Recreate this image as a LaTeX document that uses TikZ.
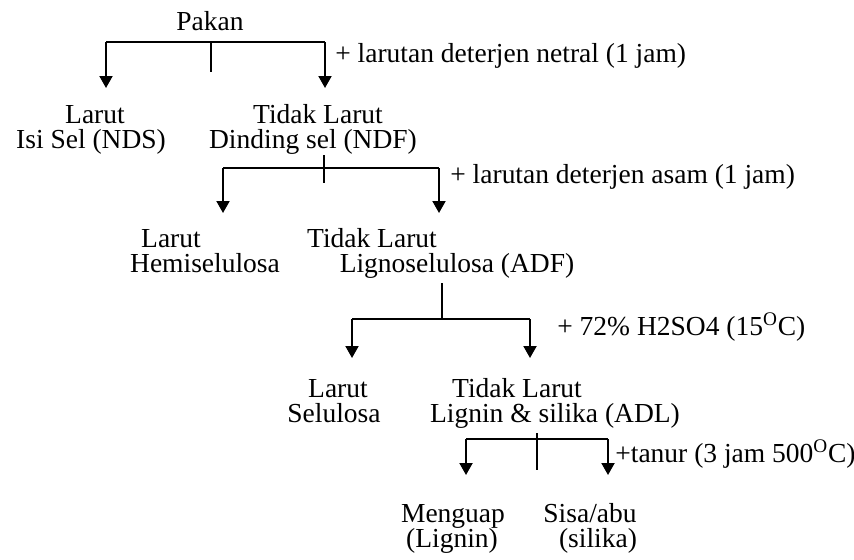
\documentclass[tikz,border=0pt]{standalone}
\usepackage{fontspec}
\setmainfont{Liberation Serif}
\usetikzlibrary{arrows.meta}
\begin{document}
\begin{tikzpicture}[x=0.02cm,y=-0.02cm,
  txt/.style={anchor=base, inner sep=0pt, font=\fontsize{15.65}{18}\selectfont},
  lbl/.style={anchor=base west, inner sep=0pt, font=\fontsize{15.65}{18}\selectfont},
  ln/.style={line width=1.1pt},
  arr/.style={line width=1.1pt, -{Triangle[length=2.4mm,width=2.6mm]}}]
\useasboundingbox (0,0) rectangle (854,559);
\node[txt] (pakan) at (210,30) {Pakan};
\node[txt] (larut1) at (95,123) {Larut};
\node[txt] (isisel) at (91,148) {Isi Sel (NDS)};
\node[txt] (tidak1) at (318,123) {Tidak Larut};
\node[txt] (dinding) at (313,148) {Dinding sel (NDF)};
\node[txt] (larut2) at (171,247) {Larut};
\node[txt] (hemi) at (205,272) {Hemiselulosa};
\node[txt] (tidak2) at (372,247) {Tidak Larut};
\node[txt] (ligno) at (457,272) {Lignoselulosa (ADF)};
\node[txt] (larut3) at (338,397) {Larut};
\node[txt] (selulosa) at (334,422) {Selulosa};
\node[txt] (tidak3) at (517,397) {Tidak Larut};
\node[txt] (ligsil) at (555,422) {Lignin \& silika (ADL)};
\node[txt] (menguap) at (453,522) {Menguap};
\node[txt] (lignin) at (452,547) {(Lignin)};
\node[txt] (sisa) at (590,522) {Sisa/abu};
\node[txt] (silika) at (598,547) {(silika)};
\node[lbl] (netral) at (335,62) {+ larutan deterjen netral (1 jam)};
\node[lbl] (asam) at (450,183) {+ larutan deterjen asam (1 jam)};
\node[lbl] (hsulf) at (557,335) {+ 72\% H2SO4 (15\textsuperscript{O}C)};
\node[lbl] (tanur) at (615,462) {+tanur (3 jam 500\textsuperscript{O}C)};
\coordinate (b1l) at (106,42);
\coordinate (b1m) at (211,42);
\coordinate (b1r) at (325,42);
\coordinate (k1) at (211,72);
\coordinate (a1l) at (106,88);
\coordinate (a1r) at (325,88);
\draw[ln] (b1l) -- (b1r);
\draw[ln] (b1m) -- (k1);
\draw[arr] (b1l) -- (a1l);
\draw[arr] (b1r) -- (a1r);
\coordinate (b2l) at (223,168);
\coordinate (b2r) at (439,168);
\coordinate (k2a) at (324,155);
\coordinate (k2b) at (324,183);
\coordinate (a2l) at (223,213);
\coordinate (a2r) at (439,213);
\draw[ln] (b2l) -- (b2r);
\draw[ln] (k2a) -- (k2b);
\draw[arr] (b2l) -- (a2l);
\draw[arr] (b2r) -- (a2r);
\coordinate (k3) at (442,283);
\coordinate (b3m) at (442,319);
\coordinate (b3l) at (352,319);
\coordinate (b3r) at (530,319);
\coordinate (a3l) at (352,358);
\coordinate (a3r) at (530,358);
\draw[ln] (k3) -- (b3m);
\draw[ln] (b3l) -- (b3r);
\draw[arr] (b3l) -- (a3l);
\draw[arr] (b3r) -- (a3r);
\coordinate (b4l) at (466,439);
\coordinate (b4r) at (608,439);
\coordinate (k4a) at (537,433);
\coordinate (k4b) at (537,470);
\coordinate (a4l) at (466,475);
\coordinate (a4r) at (608,475);
\draw[ln] (b4l) -- (b4r);
\draw[ln] (k4a) -- (k4b);
\draw[arr] (b4l) -- (a4l);
\draw[arr] (b4r) -- (a4r);
\end{tikzpicture}
\end{document}
